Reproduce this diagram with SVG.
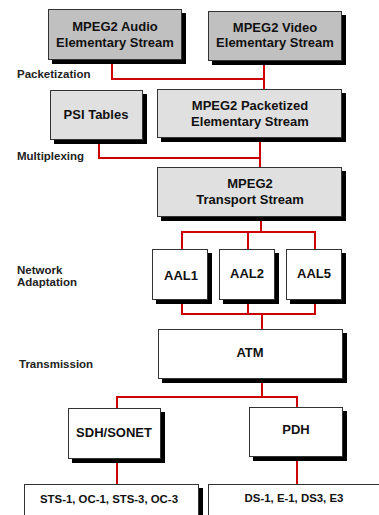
<svg xmlns="http://www.w3.org/2000/svg" width="379" height="515" viewBox="0 0 379 515">
<style>
.shadow{fill:#000}
.box{stroke:#333;stroke-width:1}
.dark{fill:#c0c0c0}
.light{fill:#e0e0e0}
.white{fill:#fff}
.t{font-family:"Liberation Sans",Arial,sans-serif;font-weight:bold;font-size:13px;fill:#111;text-anchor:middle}
.s{font-family:"Liberation Sans",Arial,sans-serif;font-weight:bold;font-size:11.4px;fill:#111;text-anchor:middle}
.lbl{font-family:"Liberation Sans",Arial,sans-serif;font-weight:bold;font-size:11.5px;fill:#222}
.c{fill:none;stroke:#cc0000;stroke-width:2}
</style>
<rect width="379" height="515" fill="#fff"/>
<g id="connectors">
<polyline class="c" points="112,60 112,79 264,79"/>
<line class="c" x1="264" y1="61" x2="264" y2="89"/>
<polyline class="c" points="99,140 99,158 260,158"/>
<line class="c" x1="260" y1="138" x2="260" y2="167"/>
<line class="c" x1="261" y1="217" x2="261" y2="232"/>
<polyline class="c" points="182,249 182,232 315,232 315,249"/>
<line class="c" x1="248" y1="232" x2="248" y2="249"/>
<polyline class="c" points="182,300 182,314 315,314 315,300"/>
<line class="c" x1="248" y1="300" x2="248" y2="314"/>
<line class="c" x1="262" y1="314" x2="262" y2="329"/>
<line class="c" x1="262" y1="379" x2="262" y2="397"/>
<polyline class="c" points="117,408 117,397 297,397 297,407"/>
<line class="c" x1="117" y1="459" x2="117" y2="484"/>
<line class="c" x1="297" y1="457" x2="297" y2="484"/>
</g>
<g id="labels">
<text class="lbl" x="17" y="78">Packetization</text>
<text class="lbl" x="17" y="160">Multiplexing</text>
<text class="lbl" x="17" y="274">Network</text>
<text class="lbl" x="17" y="286">Adaptation</text>
<text class="lbl" x="19" y="368">Transmission</text>
</g>
<g id="audio">
<rect class="shadow" x="52" y="13" width="134" height="51"/>
<rect class="box dark" x="48.5" y="9.5" width="133" height="50"/>
<text class="t" x="115" y="31">MPEG2 Audio</text>
<text class="t" x="115" y="47">Elementary Stream</text>
</g>
<g id="video">
<rect class="shadow" x="212" y="15" width="134" height="50"/>
<rect class="box dark" x="208.5" y="11.5" width="133" height="49"/>
<text class="t" x="275" y="32">MPEG2 Video</text>
<text class="t" x="275" y="47">Elementary Stream</text>
</g>
<g id="psi">
<rect class="shadow" x="54" y="94" width="93" height="50"/>
<rect class="box light" x="50.5" y="90.5" width="92" height="49"/>
<text class="t" x="96" y="119">PSI Tables</text>
</g>
<g id="pes">
<rect class="shadow" x="161" y="93" width="185" height="49"/>
<rect class="box light" x="157.5" y="89.5" width="184" height="48"/>
<text class="t" x="250" y="110">MPEG2 Packetized</text>
<text class="t" x="250" y="126">Elementary Stream</text>
</g>
<g id="ts">
<rect class="shadow" x="161" y="171" width="185" height="50"/>
<rect class="box light" x="157.5" y="167.5" width="184" height="49"/>
<text class="t" x="250" y="188">MPEG2</text>
<text class="t" x="250" y="204">Transport Stream</text>
</g>
<g id="aal1">
<rect class="shadow" x="156" y="253" width="56" height="51"/>
<rect class="box white" x="152.5" y="249.5" width="55" height="50"/>
<text class="t" x="181" y="280">AAL1</text>
</g>
<g id="aal2">
<rect class="shadow" x="223" y="253" width="56" height="51"/>
<rect class="box white" x="219.5" y="249.5" width="55" height="50"/>
<text class="t" x="247" y="278">AAL2</text>
</g>
<g id="aal5">
<rect class="shadow" x="290" y="253" width="56" height="51"/>
<rect class="box white" x="286.5" y="249.5" width="55" height="50"/>
<text class="t" x="314" y="278">AAL5</text>
</g>
<g id="atm">
<rect class="shadow" x="162" y="333" width="185" height="50"/>
<rect class="box white" x="158.5" y="329.5" width="184" height="49"/>
<text class="t" x="250" y="357">ATM</text>
</g>
<g id="sdh">
<rect class="shadow" x="72" y="412" width="93" height="51"/>
<rect class="box white" x="68.5" y="408.5" width="92" height="50"/>
<text class="t" x="114" y="437">SDH/SONET</text>
</g>
<g id="pdh">
<rect class="shadow" x="253" y="411" width="94" height="50"/>
<rect class="box white" x="249.5" y="407.5" width="93" height="49"/>
<text class="t" x="296" y="434">PDH</text>
</g>
<g id="sts">
<rect class="shadow" x="28" y="488" width="175" height="40"/>
<rect class="box white" x="24.5" y="484.5" width="174" height="40"/>
<text class="s" x="109" y="503">STS-1, OC-1, STS-3, OC-3</text>
</g>
<g id="ds">
<rect class="shadow" x="212" y="488" width="175" height="40"/>
<rect class="box white" x="208.5" y="484.5" width="174" height="40"/>
<text class="s" x="294" y="502">DS-1, E-1, DS3, E3</text>
</g>
</svg>
